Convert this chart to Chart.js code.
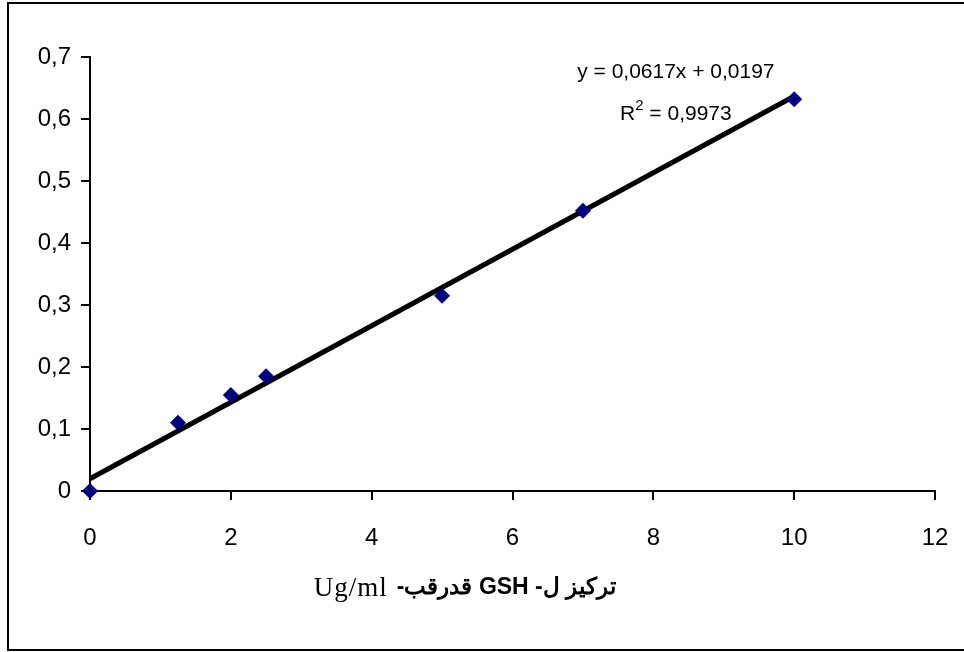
<!DOCTYPE html>
<html>
<head>
<meta charset="utf-8">
<script src="https://cdn.jsdelivr.net/npm/chart.js@4"></script>
<style>
html,body{margin:0;padding:0;background:#fff;}
#wrap{width:964px;height:652px;position:relative;}
</style>
</head>
<body>
<div id="wrap"><canvas id="c" width="964" height="652"></canvas></div>
<script>
const concentrations = [0, 1.25, 2, 2.5, 5, 7, 10];
const absorbances = [0, 0.11, 0.155, 0.185, 0.315, 0.452, 0.632];
const trendX = [0, 10];
const trendY = [0.0197, 0.6367];
const xTicks = [0, 2, 4, 6, 8, 10, 12];
const yTicks = ['0', '0,1', '0,2', '0,3', '0,4', '0,5', '0,6', '0,7'];
const equationText = 'y = 0,0617x + 0,0197';
const r2Base = 'R';
const r2Sup = '2';
const r2Rest = ' = 0,9973';
const xTitleArabic = 'تركيز ل- GSH قدرقب-';
const xTitleUnit = 'Ug/ml';

const decoPlugin = {
  id: 'deco',
  afterDraw(chart) {
    const ctx = chart.ctx;
    const xs = chart.scales.x, ys = chart.scales.y;
    ctx.save();
    ctx.strokeStyle = '#000';
    ctx.lineWidth = 2;
    ctx.strokeRect(8, 3, 970, 647);
    ctx.fillStyle = '#000';
    const eqFont = '21px "Liberation Sans", Arial, sans-serif';
    const supFont = '15px "Liberation Sans", Arial, sans-serif';
    ctx.font = eqFont;
    ctx.textAlign = 'center';
    ctx.textBaseline = 'middle';
    const cx = xs.getPixelForValue(8.32);
    ctx.fillText(equationText, cx, ys.getPixelForValue(0.675));
    const y2 = ys.getPixelForValue(0.608);
    const wR = ctx.measureText(r2Base).width;
    const wRest = ctx.measureText(r2Rest).width;
    ctx.font = supFont;
    const wSup = ctx.measureText(r2Sup).width;
    const tot = wR + wSup + wRest;
    const lx = cx - tot / 2;
    ctx.textAlign = 'left';
    ctx.font = eqFont;
    ctx.fillText(r2Base, lx, y2);
    ctx.font = supFont;
    ctx.fillText(r2Sup, lx + wR, y2 - 8);
    ctx.font = eqFont;
    ctx.fillText(r2Rest, lx + wR + wSup, y2);
    // x axis title
    const cy = 588;
    const arFont = 'bold 23px "Liberation Sans", Arial, sans-serif';
    const unFont = '27px "Liberation Serif", "Times New Roman", serif';
    ctx.font = arFont;
    ctx.direction = 'rtl';
    ctx.letterSpacing = '0px';
    const arW = ctx.measureText(xTitleArabic).width;
    ctx.direction = 'ltr';
    ctx.font = unFont;
    ctx.letterSpacing = '1px';
    const unitW = ctx.measureText(xTitleUnit).width;
    const gap = 9;
    const total = unitW + gap + arW;
    const left = 465 - total / 2;
    ctx.textAlign = 'left';
    ctx.fillText(xTitleUnit, left, cy + 1);
    ctx.letterSpacing = '0px';
    ctx.font = arFont;
    ctx.direction = 'rtl';
    ctx.textAlign = 'right';
    ctx.fillText(xTitleArabic, left + total, cy);
    ctx.restore();
  }
};

new Chart(document.getElementById('c'), {
  type: 'scatter',
  data: {
    datasets: [
      {
        type: 'line',
        data: trendX.map((x, i) => ({x: x, y: trendY[i]})),
        borderColor: '#000',
        borderWidth: 5,
        pointRadius: 0,
        fill: false,
        order: 2
      },
      {
        data: concentrations.map((x, i) => ({x: x, y: absorbances[i]})),
        pointStyle: 'rectRot',
        pointRadius: 8,
        backgroundColor: '#000080',
        borderColor: '#000080',
        borderWidth: 0,
        order: 1
      }
    ]
  },
  options: {
    responsive: false,
    animation: false,
    clip: false,
    layout: {padding: {top: 57, right: 29, left: 0, bottom: 0}},
    plugins: {legend: {display: false}, tooltip: {enabled: false}},
    scales: {
      x: {
        type: 'linear', min: 0, max: 12,
        afterFit(s) { s.height = 652 - 491; s.paddingRight = 0; s.paddingLeft = 0; },
        border: {color: '#000', width: 2},
        grid: {drawOnChartArea: false, drawTicks: true, tickLength: 9, color: '#000', lineWidth: 2},
        ticks: {
          stepSize: 2, padding: 24, color: '#000',
          font: {family: '"Liberation Sans", Arial, sans-serif', size: 24},
          callback: (v) => xTicks.includes(v) ? String(v) : ''
        }
      },
      y: {
        type: 'linear', min: 0, max: 0.7,
        afterFit(s) { s.width = 90; s.paddingTop = 0; s.paddingBottom = 0; },
        border: {color: '#000', width: 2},
        grid: {drawOnChartArea: false, drawTicks: true, tickLength: 9, color: '#000', lineWidth: 2},
        ticks: {
          stepSize: 0.1, padding: 10, color: '#000',
          font: {family: '"Liberation Sans", Arial, sans-serif', size: 24},
          callback: (v, i) => yTicks[i] !== undefined ? yTicks[i] : ''
        }
      }
    }
  },
  plugins: [decoPlugin]
});
</script>
</body>
</html>
